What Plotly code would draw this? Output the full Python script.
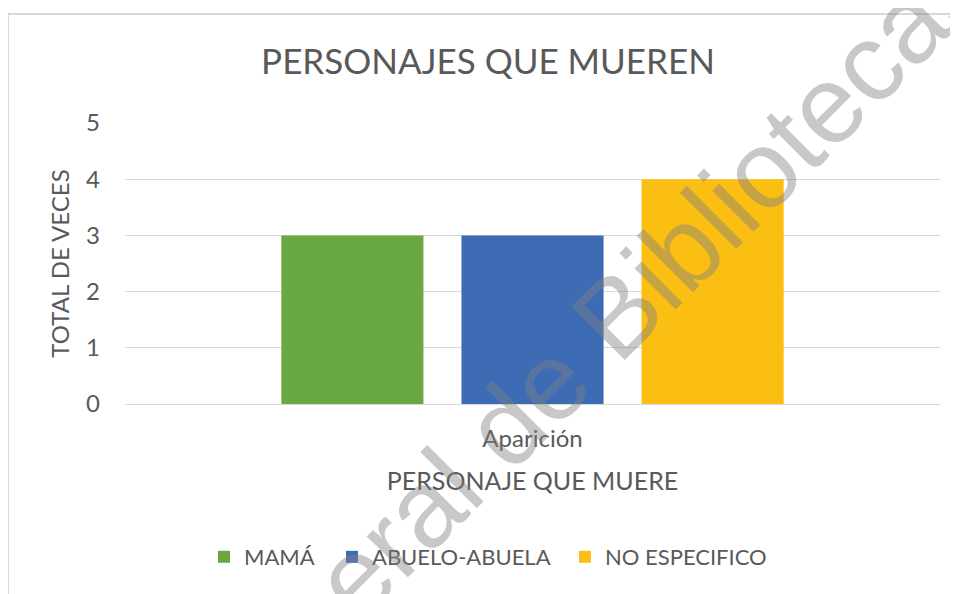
"""
Personajes que mueren - bar chart recreation.
"""
import plotly.graph_objects as go

category = ["Aparición"]
series_names = ["MAMÁ", "ABUELO-ABUELA", "NO ESPECIFICO"]
series_values = [3, 3, 4]
series_colors = ["#6AA843", "#3D6CB5", "#FBBF14"]

text_color = "#595959"
font_family = "Lato, 'Open Sans', sans-serif"

# the page body adds an 8px margin, so the figure is 8px smaller
W, H = 950, 586
L, R, T, B = 117, 18, 115, 190
PW, PH = W - L - R, H - T - B


def px(x):
    return (x - L) / PW


def py(y):
    return (H - B - y) / PH


legend_ids = ["legend", "legend2", "legend3"]
legend_symbol_x = [216, 344, 577]

fig = go.Figure()

for name, value, color, lg in zip(series_names, series_values, series_colors, legend_ids):
    fig.add_trace(go.Bar(
        x=category,
        y=[value],
        name=name,
        legend=lg,
        marker=dict(color=color, line=dict(width=0)),
    ))

legend_style = dict(
    orientation="h",
    xanchor="left",
    yanchor="middle",
    y=py(549),
    bgcolor="rgba(0,0,0,0)",
    font=dict(size=22, color=text_color),
    itemclick=False,
)

fig.update_layout(
    width=W,
    height=H,
    margin=dict(l=L, r=R, t=T, b=B),
    paper_bgcolor="white",
    plot_bgcolor="white",
    font=dict(family=font_family, color=text_color),
    title=dict(
        text="PERSONAJES QUE MUEREN",
        x=480 / W,
        xanchor="center",
        y=1 - 54 / H,
        yanchor="middle",
        font=dict(size=35, color=text_color),
    ),
    barmode="group",
    bargap=0.337,
    bargroupgap=0.211,
    showlegend=True,
)

for lg, sx in zip(legend_ids, legend_symbol_x):
    fig.update_layout({lg: dict(legend_style, x=px(sx - 20))})

fig.update_xaxes(
    showgrid=False,
    showline=False,
    ticks="",
    tickfont=dict(size=24, color=text_color),
    ticklabelstandoff=18,
    title=dict(text="PERSONAJE QUE MUERE", font=dict(size=25, color=text_color), standoff=21),
)

fig.update_yaxes(
    range=[0, 5],
    dtick=1,
    showgrid=True,
    gridcolor="#D9D9D9",
    gridwidth=1,
    zeroline=True,
    zerolinecolor="#D9D9D9",
    zerolinewidth=1,
    ticks="",
    tickfont=dict(size=24, color=text_color),
    ticklabelstandoff=24,
    title=dict(text="TOTAL DE VECES", font=dict(size=24, color=text_color), standoff=9),
)

# chart frame (left and top edges visible)
fig.add_shape(
    type="rect", xref="paper", yref="paper",
    x0=px(0), x1=px(W + 20), y0=py(H + 20), y1=py(6),
    line=dict(color="#D9D9D9", width=2), fillcolor="rgba(0,0,0,0)",
    layer="below",
)

# watermark
fig.add_annotation(
    text="Dirección General de Bibliotecas",
    xref="paper", yref="paper",
    x=px(395), y=py(519),
    xanchor="center", yanchor="middle",
    textangle=-45,
    showarrow=False,
    font=dict(family="Liberation Sans, Arial, sans-serif", size=110,
              color="rgba(128,128,128,0.43)"),
)

fig.write_html("out.html")
